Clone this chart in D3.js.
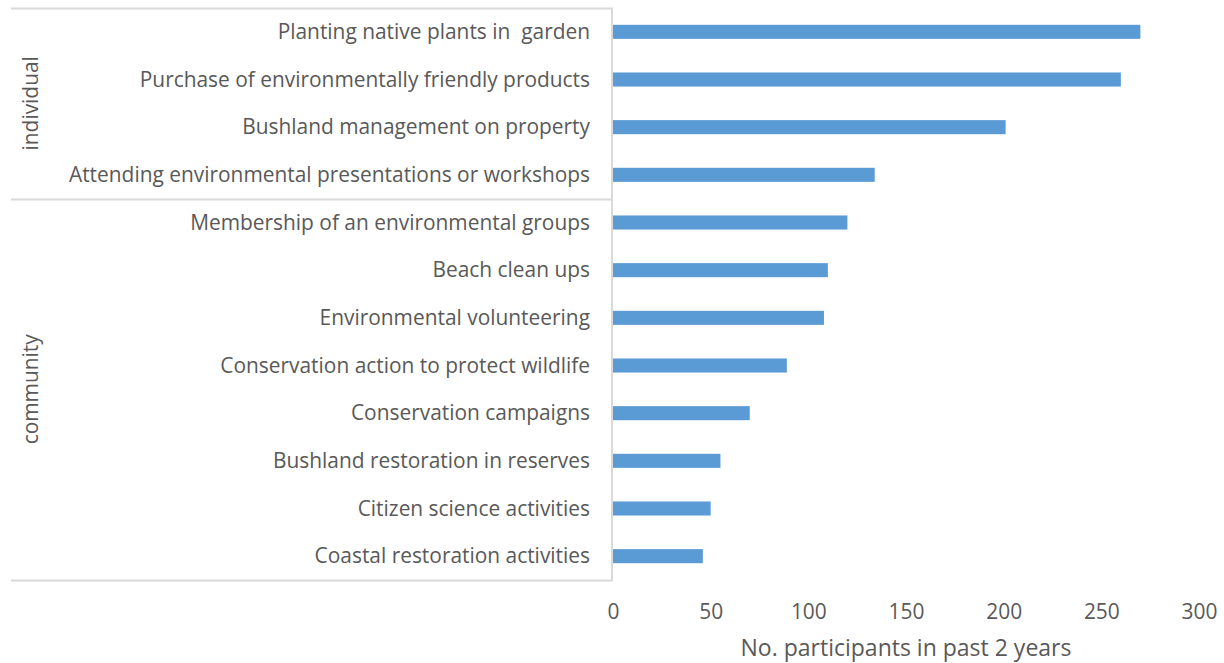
<!DOCTYPE html>
<html>
<head>
<meta charset="utf-8">
<script src="https://cdn.jsdelivr.net/npm/d3@7"></script>
<style>
  html, body { margin: 0; padding: 0; background: #fff; }
  svg { display: block; }
  text { font-family: "Open Sans", sans-serif; fill: #595959; white-space: pre; }
</style>
</head>
<body>
<svg id="chart" width="1224" height="663"></svg>
<script>
const categories = [
  "Planting native plants in  garden",
  "Purchase of environmentally friendly products",
  "Bushland management on property",
  "Attending environmental presentations or workshops",
  "Membership of an environmental groups",
  "Beach clean ups",
  "Environmental volunteering",
  "Conservation action to protect wildlife",
  "Conservation campaigns",
  "Bushland restoration in reserves",
  "Citizen science activities",
  "Coastal restoration activities"
];
const values = [270, 260, 201, 134, 120, 110, 108, 89, 70, 55, 50, 46];
const groupNames = ["individual", "community"];
const groupSizes = [4, 8];
const xTicks = [0, 50, 100, 150, 200, 250, 300];
const xTitle = "No. participants in past 2 years";

const svg = d3.select("#chart");
const plotLeft = 613, plotRight = 1199, plotTop = 8, plotBottom = 580;
const groupLeft = 11;
const fontSize = 20.9;

const x = d3.scaleLinear().domain([0, 300]).range([plotLeft, plotRight]);
const y = d3.scaleBand().domain(categories).range([plotTop, plotBottom]).paddingInner(0.705).paddingOuter(0.3525);

// bars
svg.append("g").selectAll("rect").data(categories).join("rect")
  .attr("x", x(0))
  .attr("y", d => y(d))
  .attr("width", (d, i) => x(values[i]) - x(0))
  .attr("height", y.bandwidth())
  .attr("fill", "#5b9bd5");

// category labels
svg.append("g").selectAll("text").data(categories).join("text")
  .attr("x", plotLeft - 23)
  .attr("y", d => y(d) + y.bandwidth() / 2)
  .attr("dy", "0.35em")
  .attr("text-anchor", "end")
  .attr("font-size", fontSize)
  .attr("xml:space", "preserve")
  .text(d => d);

// group separators
const step = y.step();
let cum = 0;
const sepYs = [plotTop];
groupSizes.forEach(s => { cum += s; sepYs.push(plotTop + step * cum); });
const lineColor = "#d9d9d9";
svg.append("g").selectAll("line").data(sepYs).join("line")
  .attr("x1", groupLeft).attr("x2", plotLeft)
  .attr("y1", d => Math.round(d) + 0.5).attr("y2", d => Math.round(d) + 0.5)
  .attr("stroke", lineColor).attr("stroke-width", 2);
svg.append("line")
  .attr("x1", plotLeft - 1).attr("x2", plotLeft - 1)
  .attr("y1", plotTop).attr("y2", plotBottom + 1)
  .attr("stroke", lineColor).attr("stroke-width", 2);

// group labels
svg.append("g").selectAll("text").data(groupNames).join("text")
  .attr("transform", (d, i) => {
    const cy = (sepYs[i] + sepYs[i + 1]) / 2;
    return `translate(31,${cy}) rotate(-90)`;
  })
  .attr("dy", "0.35em")
  .attr("text-anchor", "middle")
  .attr("font-size", fontSize)
  .text(d => d);

// x axis (tick labels only)
const axis = svg.append("g").attr("transform", `translate(0,${plotBottom})`)
  .call(d3.axisBottom(x).tickValues(xTicks).tickSize(0).tickPadding(0));
axis.select(".domain").remove();
axis.selectAll("text")
  .attr("y", 31.5).attr("dy", "0.35em")
  .attr("font-size", fontSize).attr("font-family", "Open Sans, sans-serif").attr("fill", "#595959");

// axis title
svg.append("text")
  .attr("x", (plotLeft + plotRight) / 2)
  .attr("y", 648)
  .attr("dy", "0.35em")
  .attr("text-anchor", "middle")
  .attr("font-size", 23)
  .text(xTitle);
</script>
</body>
</html>
